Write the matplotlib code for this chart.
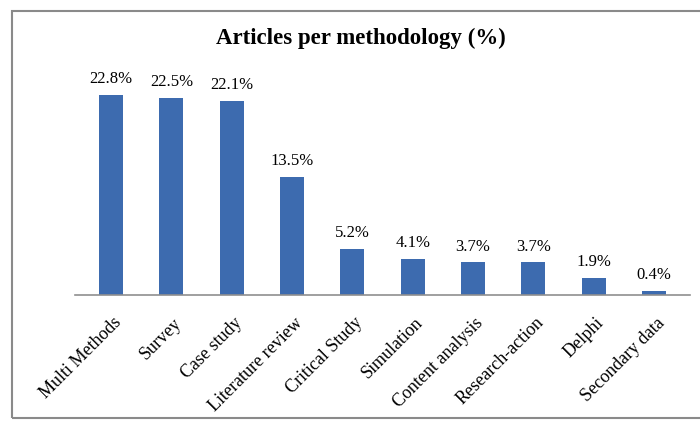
import matplotlib.pyplot as plt
import matplotlib.patches as patches

methods = ['Multi Methods', 'Survey', 'Case study', 'Literature review', 'Critical Study',
           'Simulation', 'Content analysis', 'Research-action', 'Delphi', 'Secondary data']
share = [22.8, 22.5, 22.1, 13.5, 5.2, 4.1, 3.7, 3.7, 1.9, 0.4]

plt.rcParams['font.family'] = ['Liberation Serif', 'DejaVu Serif']

fig = plt.figure(figsize=(7, 4.23), dpi=100)
ax = fig.add_axes([0.107, 0.303, 0.879, 0.518])

x = range(len(methods))
ax.bar(x, share, width=0.4, color='#3d6baf')
for i, v in enumerate(share):
    ax.text(i, v + 0.9, f'{v:.1f}%', ha='center', va='bottom', fontsize=12)

ax.set_xlim(-0.6, len(methods) - 0.4)
ax.set_ylim(0, 25)
ax.set_yticks([])
ax.set_xticks([i + 0.03 for i in x])
ax.set_xticklabels(methods, rotation=45, ha='right', rotation_mode='anchor', fontsize=13)
ax.tick_params(axis='x', length=0, pad=14)
for s in ['top', 'left', 'right']:
    ax.spines[s].set_visible(False)
ax.spines['bottom'].set_color('#8f8f8f')
ax.spines['bottom'].set_linewidth(1.2)

fig.text(0.516, 0.91, 'Articles per methodology (%)', ha='center', va='center',
         fontsize=16.5, fontweight='bold')

# outer frame
fig.patches.append(patches.Rectangle((0.017, 0.012), 1.0, 0.962, transform=fig.transFigure,
                                     fill=False, edgecolor='#8a8a8a', linewidth=1.5))

fig.savefig('out.png', dpi=100)
